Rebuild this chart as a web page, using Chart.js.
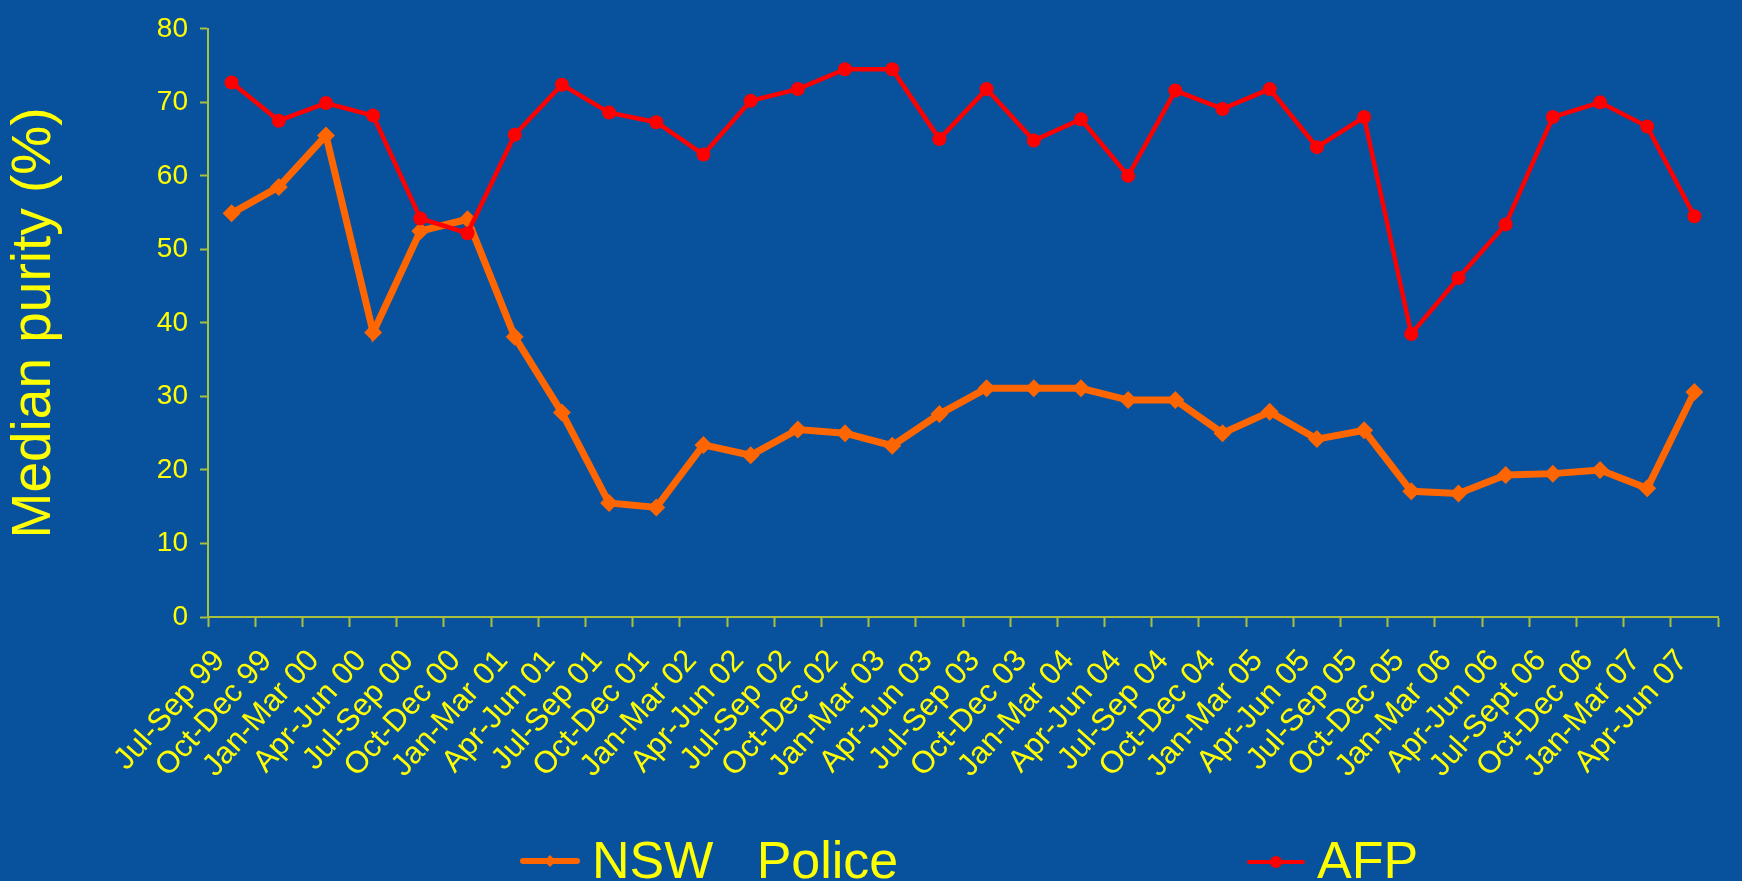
<!DOCTYPE html>
<html>
<head>
<meta charset="utf-8">
<script src="https://cdn.jsdelivr.net/npm/chart.js@4/dist/chart.umd.min.js"></script>
<style>
html,body{margin:0;padding:0;background:#08519d;overflow:hidden}
#wrap{width:1742px;height:881px;position:relative}
canvas{display:block}
</style>
</head>
<body>
<div id="wrap"><canvas id="c" width="1742" height="881"></canvas></div>
<script>
// ---- data ----
const categories = [
  "Jul-Sep 99","Oct-Dec 99","Jan-Mar 00","Apr-Jun 00","Jul-Sep 00","Oct-Dec 00",
  "Jan-Mar 01","Apr-Jun 01","Jul-Sep 01","Oct-Dec 01","Jan-Mar 02","Apr-Jun 02",
  "Jul-Sep 02","Oct-Dec 02","Jan-Mar 03","Apr-Jun 03","Jul-Sep 03","Oct-Dec 03",
  "Jan-Mar 04","Apr-Jun 04","Jul-Sep 04","Oct-Dec 04","Jan-Mar 05","Apr-Jun 05",
  "Jul-Sep 05","Oct-Dec 05","Jan-Mar 06","Apr-Jun 06","Jul-Sept 06","Oct-Dec 06",
  "Jan-Mar 07","Apr-Jun 07"
];
const nswPolice = [54.9, 58.5, 65.5, 38.7, 52.5, 54.1, 38.1, 27.8, 15.5, 14.9, 23.4, 22.0,
  25.5, 25.0, 23.3, 27.6, 31.1, 31.1, 31.1, 29.5, 29.5, 25.0, 27.9, 24.2,
  25.4, 17.1, 16.8, 19.3, 19.5, 20.0, 17.5, 30.6];
const afp = [72.7, 67.5, 69.9, 68.2, 54.2, 52.2, 65.6, 72.4, 68.6, 67.3, 62.9, 70.2,
  71.8, 74.5, 74.5, 65.0, 71.8, 64.8, 67.7, 60.0, 71.6, 69.1, 71.8, 63.9,
  68.0, 38.5, 46.1, 53.4, 68.0, 70.0, 66.7, 54.5];
const yTickValues = [0, 10, 20, 30, 40, 50, 60, 70, 80];
const seriesNames = ["NSW   Police", "AFP"];
const yTitle = "Median purity (%)";

// ---- style ----
const BG = "#08519d";
const YELLOW = "#ffff00";
const AXIS = "#a9c03c";
const FONT = "'Liberation Sans', Arial, Helvetica, sans-serif";

const bgPlugin = {
  id: "bg",
  beforeDraw(chart) {
    const ctx = chart.ctx;
    ctx.save();
    ctx.fillStyle = BG;
    ctx.fillRect(0, 0, chart.width, chart.height);
    ctx.restore();
  }
};

// custom legend laid out like the original slide
const legendSlots = [
  { lineX0: 523, lineX1: 577, y: 861, textX: 592 },
  { lineX0: 1249, lineX1: 1303, y: 862, textX: 1317 }
];
const legendPlugin = {
  id: "slideLegend",
  afterDraw(chart) {
    const ctx = chart.ctx;
    ctx.save();
    chart.data.datasets.forEach((ds, i) => {
      const s = legendSlots[i];
      ctx.strokeStyle = ds.borderColor;
      ctx.lineWidth = ds.legendLineWidth;
      ctx.lineCap = "round";
      ctx.beginPath();
      ctx.moveTo(s.lineX0, s.y);
      ctx.lineTo(s.lineX1, s.y);
      ctx.stroke();
      const cx = (s.lineX0 + s.lineX1) / 2;
      ctx.fillStyle = ds.pointBackgroundColor;
      ctx.beginPath();
      if (ds.pointStyle === "rectRot") {
        const r = 6;
        ctx.moveTo(cx, s.y - r); ctx.lineTo(cx + r, s.y); ctx.lineTo(cx, s.y + r); ctx.lineTo(cx - r, s.y);
        ctx.closePath();
      } else {
        ctx.arc(cx, s.y, 6, 0, Math.PI * 2);
      }
      ctx.fill();
      ctx.fillStyle = YELLOW;
      ctx.font = "52px " + FONT;
      ctx.textBaseline = "alphabetic";
      ctx.textAlign = "left";
      ctx.fillText(ds.label, s.textX, 878);
    });
    ctx.restore();
  }
};

new Chart(document.getElementById("c"), {
  type: "line",
  data: {
    labels: categories,
    datasets: [
      {
        label: seriesNames[0],
        data: nswPolice,
        borderColor: "#ff6600",
        backgroundColor: "#ff6600",
        pointBackgroundColor: "#ff6600",
        pointBorderColor: "#ff6600",
        borderWidth: 7,
        legendLineWidth: 6,
        pointStyle: "rectRot",
        pointRadius: 9,
        pointBorderWidth: 0,
        tension: 0,
        order: 1
      },
      {
        label: seriesNames[1],
        data: afp,
        borderColor: "#ff0000",
        backgroundColor: "#ff0000",
        pointBackgroundColor: "#ff0000",
        pointBorderColor: "#ff0000",
        borderWidth: 4.5,
        legendLineWidth: 4,
        pointStyle: "circle",
        pointRadius: 7,
        pointBorderWidth: 0,
        tension: 0,
        order: 0
      }
    ]
  },
  options: {
    responsive: false,
    animation: false,
    devicePixelRatio: 1,
    layout: { padding: { left: 0, top: 25, right: 24, bottom: 0 } },
    plugins: {
      legend: { display: false },
      tooltip: { enabled: false },
      title: { display: false }
    },
    scales: {
      x: {
        type: "category",
        offset: true,
        afterFit(scale) { scale.height = 881 - 617; },
        grid: {
          offset: true,
          drawOnChartArea: false,
          drawTicks: true,
          tickLength: 10,
          tickWidth: 2,
          color: AXIS
        },
        border: { display: true, color: AXIS, width: 2 },
        ticks: {
          autoSkip: false,
          maxRotation: 48,
          minRotation: 48,
          color: YELLOW,
          padding: 16,
          labelOffset: -12,
          font: { family: FONT, size: 31 }
        }
      },
      y: {
        min: 0,
        max: 80,
        afterFit(scale) { scale.width = 208; },
        afterBuildTicks(scale) { scale.ticks = yTickValues.map(v => ({ value: v })); },
        grid: {
          drawOnChartArea: false,
          drawTicks: true,
          tickLength: 8,
          tickWidth: 2,
          color: AXIS
        },
        border: { display: true, color: AXIS, width: 2 },
        ticks: {
          color: YELLOW,
          padding: 12,
          font: { family: FONT, size: 28 }
        },
        title: {
          display: true,
          text: yTitle,
          color: YELLOW,
          padding: { top: 2, bottom: 0 },
          font: { family: FONT, size: 55 }
        }
      }
    }
  },
  plugins: [bgPlugin, legendPlugin]
});
</script>
</body>
</html>
